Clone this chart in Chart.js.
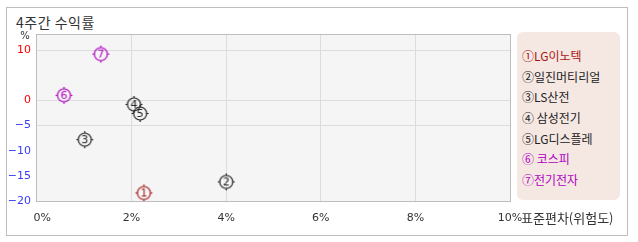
<!DOCTYPE html>
<html>
<head>
<meta charset="utf-8">
<script src="https://cdn.jsdelivr.net/npm/chart.js@4"></script>
<style>
  body { margin: 0; background: #fff; font-family: "Noto Sans CJK KR", sans-serif; }
  #wrap { position: relative; width: 638px; height: 242px; }
  #frame { position: absolute; left: 6px; top: 7px; width: 620px; height: 227px; border: 1px solid #bdbdbd; }
  #title { position: absolute; left: 16px; top: 13px; font-size: 14px; line-height: 18px; color: #333; letter-spacing: 0.5px; }
  #legend { position: absolute; left: 517px; top: 32px; width: 103px; height: 168px; background: #f5e8e2;
            border-radius: 6px; padding-top: 14px; box-sizing: border-box; padding-left: 5px; font-size: 12px; }
  #legend div { height: 20.7px; line-height: 20.7px; white-space: nowrap; }
  canvas { position: absolute; left: 0; top: 0; }
</style>
</head>
<body>
<div id="wrap">
  <div id="frame"></div>
  <div id="title">4주간 수익률</div>
  <canvas id="chart" width="638" height="242"></canvas>
  <div id="legend"></div>
</div>
<script>
const names = ['LG이노텍', '일진머티리얼', 'LS산전', '삼성전기', 'LG디스플레', '코스피', '전기전자'];
const legendLabels = ['①LG이노텍', '②일진머티리얼', '③LS산전', '④ 삼성전기', '⑤LG디스플레', '⑥ 코스피', '⑦전기전자'];
const risk = [2.26, 4.0, 1.01, 2.05, 2.18, 0.57, 1.35];      // 표준편차 %
const returns = [-18.4, -16.2, -7.8, -0.8, -2.6, 1.0, 9.2];  // 4주 수익률 %
const colors = ['#a51c1c', '#222222', '#222222', '#222222', '#222222', '#b000c0', '#b000c0'];
const legendColors = ['#a81414', '#222222', '#222222', '#222222', '#222222', '#b000c0', '#b000c0'];
const xTicks = [0, 2, 4, 6, 8, 10];
const yTicks = [10, 0, -5, -10, -15, -20];
const yGridAt = [10, 0, -5];

// legend
const legendDiv = document.getElementById('legend');
legendLabels.forEach((t, i) => {
  const d = document.createElement('div');
  d.textContent = t;
  d.style.color = legendColors[i];
  legendDiv.appendChild(d);
});

// circled number marker
function makeMarker(num, color) {
  const c = document.createElement('canvas');
  c.width = 21; c.height = 21;
  const g = c.getContext('2d');
  const m = 10.5, r = 6.5;
  g.strokeStyle = color;
  g.lineWidth = 1.2;
  g.beginPath();
  g.arc(m, m, r, 0, Math.PI * 2);
  g.stroke();
  g.beginPath();
  g.moveTo(m, m - r); g.lineTo(m, m - r - 2);
  g.moveTo(m, m + r); g.lineTo(m, m + r + 2);
  g.moveTo(m - r, m); g.lineTo(m - r - 2, m);
  g.moveTo(m + r, m); g.lineTo(m + r + 2, m);
  g.stroke();
  g.fillStyle = color;
  g.font = '11px "DejaVu Sans", sans-serif';
  g.textAlign = 'center';
  g.textBaseline = 'middle';
  g.fillText(String(num), m, m + 0.5);
  return c;
}

const datasets = names.map((n, i) => ({
  label: n,
  data: [{ x: risk[i], y: returns[i] }],
  pointStyle: makeMarker(i + 1, colors[i]),
  pointRadius: 8,
  pointHoverRadius: 8
}));

const plotFrame = {
  id: 'plotFrame',
  beforeDraw(chart) {
    const { ctx, chartArea: a } = chart;
    ctx.save();
    ctx.fillStyle = '#f5f5f5';
    ctx.fillRect(a.left, a.top, a.right - a.left, a.bottom - a.top);
    ctx.restore();
  },
  afterDatasetsDraw(chart) {
    const { ctx, chartArea: a } = chart;
    ctx.save();
    ctx.strokeStyle = '#bdbdbd';
    ctx.lineWidth = 1;
    ctx.strokeRect(a.left - 0.5, a.top + 0.5, a.right - a.left + 1, a.bottom - a.top);
    ctx.fillStyle = '#333';
    ctx.font = '13px "Noto Sans CJK KR", sans-serif';
    ctx.textBaseline = 'middle';
    ctx.textAlign = 'left';
    ctx.fillText('표준편차(위험도)', a.right + 11, 218);
    ctx.font = '10px "DejaVu Sans", sans-serif';
    ctx.textAlign = 'center';
    ctx.fillText('%', 25, 36);
    ctx.restore();
  }
};

new Chart(document.getElementById('chart'), {
  type: 'scatter',
  data: { datasets },
  options: {
    responsive: false,
    animation: false,
    layout: { padding: { left: 0, top: 34, right: 128, bottom: 0 } },
    plugins: { legend: { display: false }, tooltip: { enabled: false } },
    scales: {
      x: {
        min: 0, max: 10,
        afterBuildTicks: s => { s.ticks = xTicks.map(v => ({ value: v })); },
        afterFit: s => { s.height = 41; },
        grid: {
          drawTicks: false,
          color: c => (c.tick && c.tick.value > 0 && c.tick.value < 10) ? '#dcdcdc' : 'rgba(0,0,0,0)'
        },
        border: { display: false },
        ticks: {
          padding: 11,
          color: '#333',
          font: { size: 11, family: '"DejaVu Sans", sans-serif' },
          callback: v => (v === 0 ? '   ' : '') + v + '%'
        }
      },
      y: {
        min: -20, max: 13.2,
        afterBuildTicks: s => { s.ticks = yTicks.map(v => ({ value: v })); },
        afterFit: s => { s.width = 37; },
        grid: {
          drawTicks: false,
          color: c => (c.tick && yGridAt.includes(c.tick.value)) ? '#dcdcdc' : 'rgba(0,0,0,0)'
        },
        border: { display: false },
        ticks: {
          padding: 6,
          font: { size: 11, family: '"DejaVu Sans", sans-serif' },
          color: c => c.tick.value >= 0 ? '#ff0000' : '#3c3cf5',
          callback: v => v < 0 ? '\u2212' + Math.abs(v) : String(v)
        }
      }
    }
  },
  plugins: [plotFrame]
});
</script>
</body>
</html>
